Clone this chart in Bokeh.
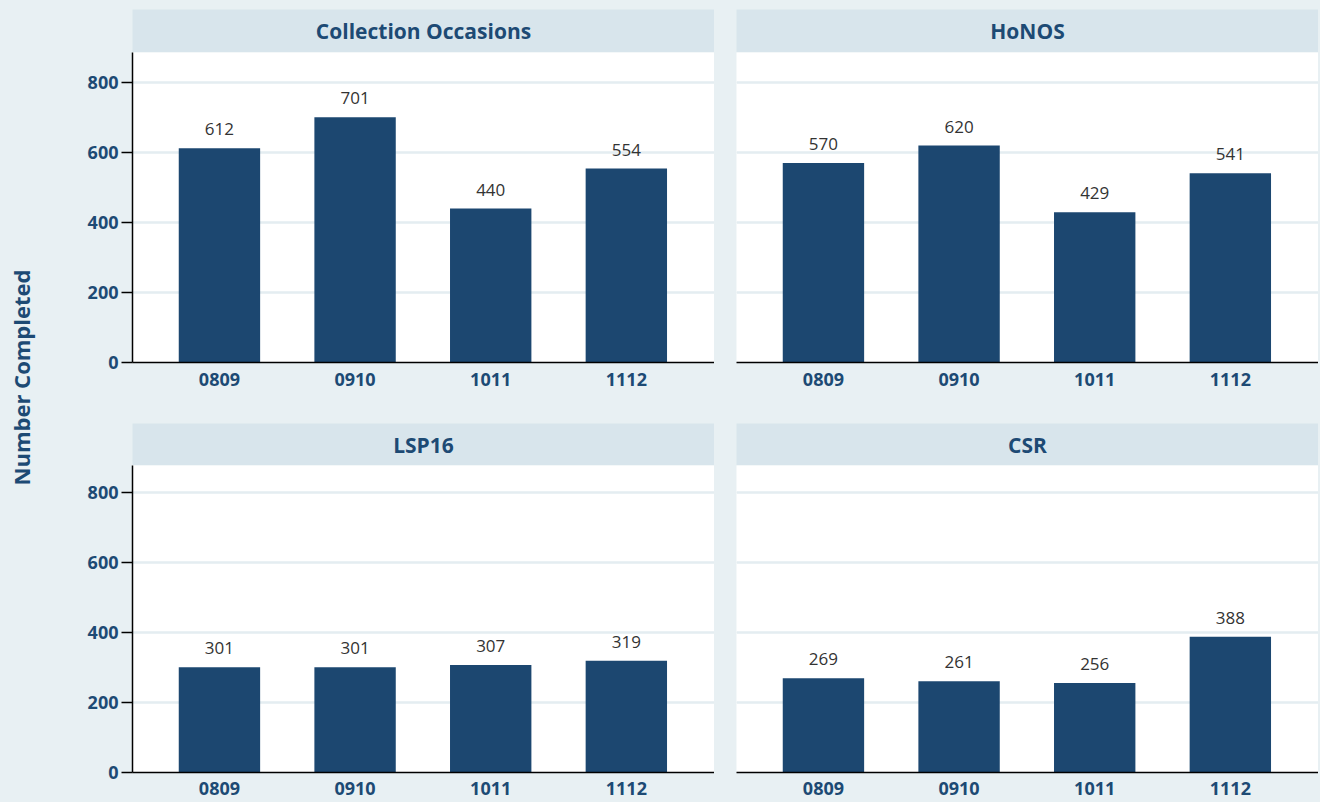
import math
from bokeh.plotting import figure
from bokeh.layouts import row, column
from bokeh.models import Range1d, FixedTicker, Grid, ColumnDataSource, Spacer
from bokeh.core.properties import value
from bokeh.embed import file_html
from bokeh.resources import INLINE

# ---- data ----
categories = ["0809", "0910", "1011", "1112"]
collection_occasions = [612, 701, 440, 554]
honos = [570, 620, 429, 541]
lsp16 = [301, 301, 307, 319]
csr = [269, 261, 256, 388]
panel_titles = ["Collection Occasions", "HoNOS", "LSP16", "CSR"]
y_ticks = [0, 200, 400, 600, 800]
y_label = "Number Completed"

# ---- style ----
BG = "#e8f0f3"
HEADER = "#d8e5ec"
BAR = "#1c4770"
BLUE_TXT = "#1d4a74"
VAL_TXT = "#333333"
GRID = "#e4edf1"
FONT = "Open Sans"

FRAME_W = 582
AXIS_W = 84
YLAB_W = 48
GAP_W = 22
RIGHT_PAD = 2
PX_PER_UNIT = 0.35


def header(title, left, h_px):
    h = figure(width=left + FRAME_W, height=h_px, output_backend="svg",
               toolbar_location=None, x_axis_location=None, y_axis_location=None,
               x_range=Range1d(0, 1), y_range=Range1d(0, 1),
               min_border_left=left, min_border_right=0,
               min_border_top=0, min_border_bottom=0)
    h.background_fill_color = HEADER
    h.border_fill_color = BG
    h.outline_line_color = None
    h.grid.visible = False
    h.text(x=[0.5], y=[0.5], text=[title], text_align="center",
           text_baseline="middle", text_font=value(FONT),
           text_font_style="bold", text_font_size="21px", text_color=BLUE_TXT)
    return h


def panel(vals, show_y, frame_h, bottom, standoff, right=0):
    left = AXIS_W if show_y else GAP_W
    p = figure(width=left + FRAME_W + right, height=frame_h + bottom, output_backend="svg",
               toolbar_location=None,
               x_range=Range1d(-0.641, 3.65),
               y_range=Range1d(0, frame_h / PX_PER_UNIT),
               y_axis_location="left" if show_y else None,
               min_border_left=left, min_border_right=right,
               min_border_top=0, min_border_bottom=bottom)
    p.background_fill_color = "white"
    p.border_fill_color = BG
    p.outline_line_color = None
    p.xgrid.visible = False
    if show_y:
        p.ygrid.visible = False
    p.add_layout(Grid(dimension=1, ticker=FixedTicker(ticks=y_ticks),
                      grid_line_color=GRID, grid_line_width=2.5))

    idx = list(range(len(categories)))
    src = ColumnDataSource(dict(x=idx, top=vals, lab=[str(v) for v in vals]))
    p.vbar(x="x", top="top", width=0.6, source=src, fill_color=BAR, line_color=None)
    p.text(x="x", y="top", text="lab", source=src, y_offset=-19,
           text_align="center", text_baseline="alphabetic",
           text_font=value(FONT), text_font_size="17px", text_color=VAL_TXT)

    xa = p.xaxis[0]
    xa.ticker = FixedTicker(ticks=idx)
    xa.major_label_overrides = {i: c for i, c in zip(idx, categories)}
    xa.major_tick_out = 0
    xa.major_tick_in = 0
    xa.minor_tick_out = 0
    xa.minor_tick_in = 0
    xa.axis_line_color = "black"
    xa.axis_line_width = 1.5
    xa.major_label_standoff = standoff
    xa.major_label_text_font = FONT
    xa.major_label_text_font_style = "bold"
    xa.major_label_text_font_size = "18px"
    xa.major_label_text_color = BLUE_TXT

    if show_y:
        ya = p.yaxis[0]
        ya.ticker = FixedTicker(ticks=y_ticks)
        ya.major_tick_out = 11
        ya.major_tick_in = 0
        ya.minor_tick_out = 0
        ya.minor_tick_in = 0
        ya.major_tick_line_width = 1.5
        ya.axis_line_width = 1.5
        ya.axis_line_color = "black"
        ya.major_label_standoff = 3
        ya.major_label_text_font = FONT
        ya.major_label_text_font_style = "bold"
        ya.major_label_text_font_size = "18px"
        ya.major_label_text_color = BLUE_TXT
    return p


series = [collection_occasions, honos, lsp16, csr]

TOP_PAD = 9
TOP_HEADER = 43
TOP_FRAME = 310
TOP_BOTTOM = 61
BOT_HEADER = 42
BOT_FRAME = 307
BOT_BOTTOM = 30
TOTAL_H = TOP_PAD + TOP_HEADER + TOP_FRAME + TOP_BOTTOM + BOT_HEADER + BOT_FRAME + BOT_BOTTOM

pa = column(header(panel_titles[0], AXIS_W, TOP_HEADER),
            panel(series[0], True, TOP_FRAME, TOP_BOTTOM, 10), spacing=0)
pb = column(header(panel_titles[1], GAP_W, TOP_HEADER),
            panel(series[1], False, TOP_FRAME, TOP_BOTTOM, 10), spacing=0)
pc = column(header(panel_titles[2], AXIS_W, BOT_HEADER),
            panel(series[2], True, BOT_FRAME, BOT_BOTTOM, 9), spacing=0)
pd = column(header(panel_titles[3], GAP_W, BOT_HEADER),
            panel(series[3], False, BOT_FRAME, BOT_BOTTOM, 9), spacing=0)

ylab = figure(width=YLAB_W, height=TOTAL_H, output_backend="svg", toolbar_location=None,
              x_axis_location=None, y_axis_location=None,
              x_range=Range1d(0, 1), y_range=Range1d(0, 1),
              min_border=0)
ylab.background_fill_color = BG
ylab.border_fill_color = BG
ylab.outline_line_color = None
ylab.grid.visible = False
ylab.text(x=[20 / YLAB_W], y=[1 - 377 / TOTAL_H], text=[y_label], angle=math.pi / 2,
          text_align="center", text_baseline="middle", text_font=value(FONT),
          text_font_style="bold", text_font_size="22px", text_color=BLUE_TXT)

inner_w = AXIS_W + FRAME_W + GAP_W + FRAME_W + RIGHT_PAD
grid_col = column(Spacer(height=TOP_PAD, width=inner_w, styles={"background-color": BG}),
                  row(pa, pb, Spacer(width=RIGHT_PAD, height=TOP_HEADER + TOP_FRAME + TOP_BOTTOM,
                                     styles={"background-color": BG}), spacing=0),
                  row(pc, pd, Spacer(width=RIGHT_PAD, height=BOT_HEADER + BOT_FRAME + BOT_BOTTOM,
                                     styles={"background-color": BG}), spacing=0),
                  spacing=0, styles={"background-color": BG})
layout = row(ylab, grid_col, spacing=0, styles={"background-color": BG})

open("out.html", "w").write(file_html(layout, INLINE))
